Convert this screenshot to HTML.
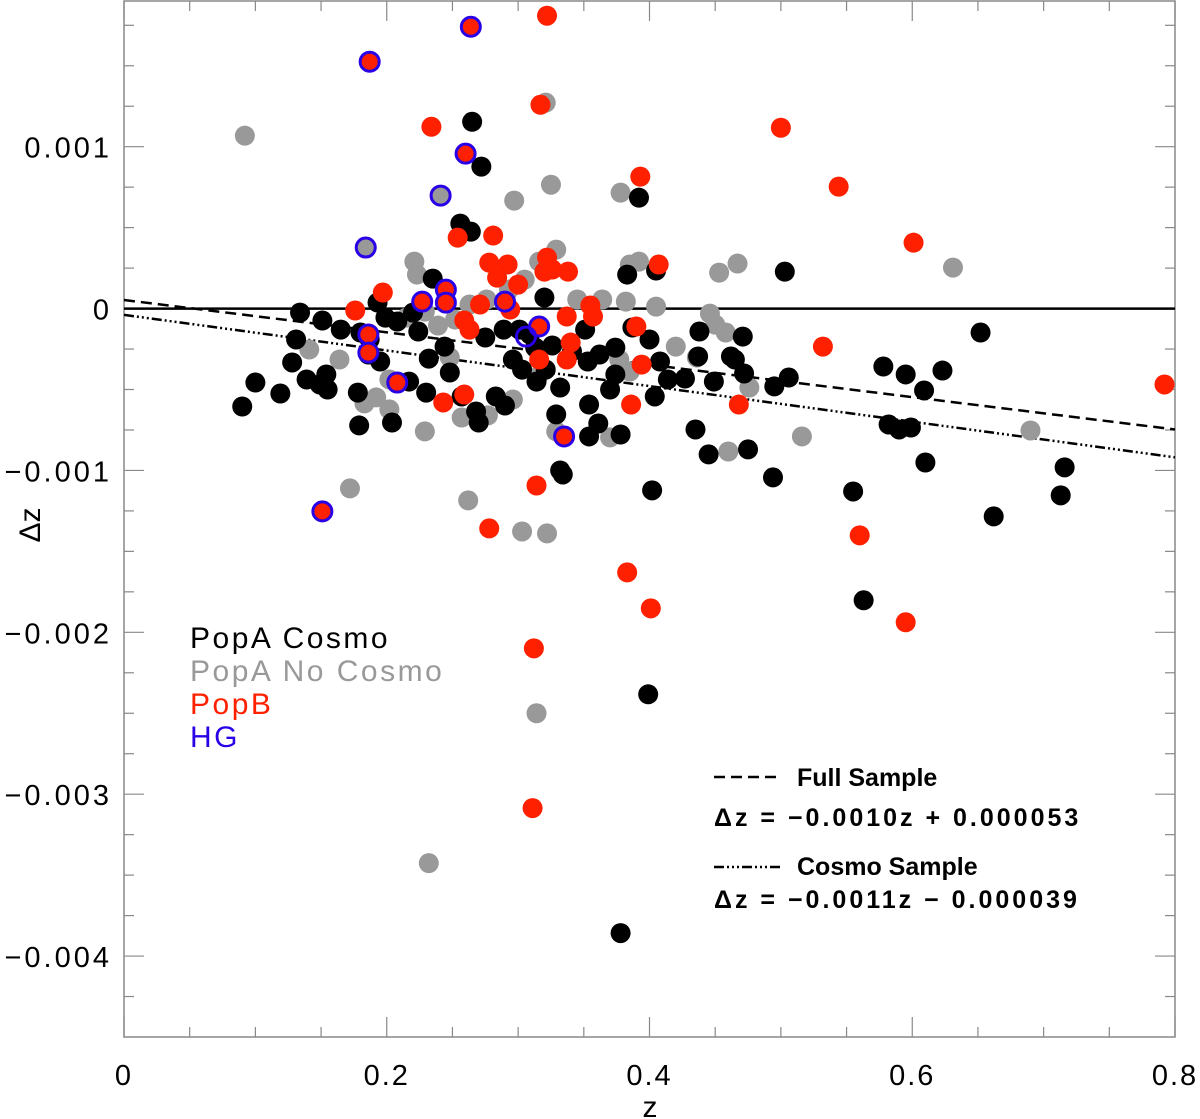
<!DOCTYPE html>
<html><head><meta charset="utf-8"><style>
body{margin:0;background:#fff;}
svg{display:block;font-family:"Liberation Sans",sans-serif;}
</style></head><body>
<svg id="chart" width="1200" height="1119" viewBox="0 0 1200 1119" xmlns="http://www.w3.org/2000/svg">
<g id="axes"></g>
<g id="lines"></g>
<g id="pts"></g>
<g font-size="30" letter-spacing="2.5">
<text x="190" y="648" fill="#000">PopA Cosmo</text>
<text x="190" y="681" fill="#999">PopA No Cosmo</text>
<text x="190" y="714" fill="#ff2000">PopB</text>
<text x="190" y="747" fill="#2a00e6">HG</text>
</g>
<g font-weight="bold">
<line x1="714" y1="777" x2="780" y2="777" stroke="#000" stroke-width="2.5" stroke-dasharray="11,6"/>
<text x="797" y="786" font-size="25">Full Sample</text>
<text x="714" y="826" font-size="25" letter-spacing="3">Δz = −0.0010z + 0.000053</text>
<line x1="714" y1="867" x2="780" y2="867" stroke="#000" stroke-width="2.5" stroke-dasharray="10,3,2,3,2,3,2,3"/>
<text x="797" y="875" font-size="25">Cosmo Sample</text>
<text x="714" y="908" font-size="25" letter-spacing="3">Δz = −0.0011z − 0.000039</text>
</g>
<text x="650" y="1117" font-size="30" text-anchor="middle">z</text>
<text transform="translate(40,525) rotate(-90)" font-size="30" text-anchor="middle">Δz</text>
</svg>
<script>
// data (dz in units of 1e-3)
const blackZ=[.265,.272,.392,.256,.264,.235,.405,.383,.503,.320,.193,.134,.131,.151,.165,.180,.187,.208,.199,.220,.186,.195,.224,.244,.275,.289,.301,.309,.313,.326,.341,.351,.362,.353,.374,.387,.400,.408,.414,.404,.370,.374,.314,.321,.303,.296,.248,.232,.217,.230,.128,.139,.119,.154,.155,.149,.178,.179,.204,.100,.090,.257,.268,.270,.283,.290,.332,.329,.354,.354,.361,.378,.332,.334,.402,.427,.471,.438,.449,.437,.462,.495,.506,.472,.465,.435,.445,.475,.494,.555,.578,.582,.590,.599,.595,.609,.623,.610,.652,.662,.716,.713,.563,.399,.378];
const blackDz=[1.154,.877,.685,.525,.475,.185,.235,.210,.228,.068,.037,-.025,-.191,-.074,-.130,-.148,-.191,-.080,-.056,-.025,-.284,-.327,-.142,-.235,-.179,-.130,-.130,-.160,-.241,-.228,-.265,-.130,-.284,-.327,-.241,-.117,-.191,-.327,-.438,-.543,-.500,-.407,-.451,-.377,-.377,-.315,-.395,-.309,-.451,-.519,-.333,-.438,-.525,-.407,-.500,-.469,-.519,-.722,-.704,-.457,-.605,-.543,-.636,-.704,-.543,-.599,-.488,-.654,-.593,-.790,-.710,-.778,-1.000,-1.025,-1.123,-.432,-.173,-.142,-.451,-.296,-.296,-.481,-.426,-.401,-.315,-.747,-.901,-.870,-1.043,-1.130,-.358,-.716,-.747,-.735,-.407,-.506,-.383,-.951,-.148,-1.284,-.981,-1.154,-1.802,-2.383,-3.858];
const greyZ=[.092,.321,.325,.297,.378,.392,.453,.467,.631,.221,.223,.215,.229,.239,.252,.263,.276,.293,.305,.316,.329,.345,.364,.382,.405,.385,.420,.446,.450,.458,.248,.202,.192,.183,.202,.229,.257,.277,.296,.315,.329,.370,.436,.476,.460,.516,.690,.172,.262,.303,.322,.232,.314,.164,.141,.385,.377];
const greyDz=[1.068,1.272,.765,.667,.716,.290,.222,.278,.253,.290,.210,-.056,-.019,-.105,-.068,.025,.056,.117,.179,.290,.364,.056,.056,.043,.012,.272,-.235,-.031,-.099,-.148,-.302,-.438,-.549,-.586,-.623,-.759,-.673,-.660,-.562,-.420,-.759,-.796,-.302,-.488,-.883,-.790,-.753,-1.111,-1.185,-1.377,-1.389,-3.426,-2.500,-.315,-.253,-.389,-.315];
const redZ=[.322,.234,.317,.500,.544,.393,.601,.407,.254,.281,.197,.176,.278,.292,.284,.322,.326,.338,.320,.263,.271,.294,.300,.355,.357,.337,.340,.316,.337,.390,.394,.243,.259,.386,.468,.532,.792,.314,.278,.383,.401,.560,.595,.312,.311,.259];
const redDz=[1.809,1.123,1.259,1.117,.753,.815,.407,.272,.438,.451,.099,-.012,.284,.272,.191,.315,.241,.228,.228,-.130,.025,-.006,.148,.019,-.049,-.049,-.210,-.315,-.315,-.111,-.346,-.580,-.531,-.593,-.593,-.235,-.469,-1.093,-1.358,-1.630,-1.852,-1.401,-1.938,-2.099,-3.086,-.074];
const hgZ=[.187,.264,.260,.241,.184,.245,.227,.245,.290,.186,.186,.208,.151,.335,.316,.306];
const hgDz=[1.525,1.741,.957,.698,.377,.117,.043,.037,.043,-.160,-.272,-.457,-1.253,-.790,-.111,-.173];
const hgFill=["red","red","red","grey","grey","red","red","red","red","red","red","red","red","red","red","none"];
const fitSlope=[-0.0010,-0.0011];
const fitIcpt=[0.000053,-0.000039];
const xTicks=["0","0.2","0.4","0.6","0.8"];
const yTickVals=[0.001,0,-0.001,-0.002,-0.003,-0.004];
const yTickLabels=["0.001","0","\u22120.001","\u22120.002","\u22120.003","\u22120.004"];

const L=124,R=1175,T=1,B=1037,XMIN=0,XMAX=0.8,YMIN=-0.0045,YMAX=0.0019;
const X=v=>L+(v-XMIN)/(XMAX-XMIN)*(R-L);
const Y=v=>T+(YMAX-v)/(YMAX-YMIN)*(B-T);
const NS="http://www.w3.org/2000/svg";
function mk(tag,parent,attrs){const e=document.createElementNS(NS,tag);for(const k in attrs)e.setAttribute(k,attrs[k]);parent.appendChild(e);return e;}
const ax=document.getElementById('axes');
const frame=mk('rect',ax,{x:L,y:T,width:R-L,height:B-T,fill:'none',stroke:'#888','stroke-width':1.5});


for(let i=0;i<=16;i++){const v=i*0.05,x=X(v),len=(i%4==0)?20:10;
 const t1=mk('line',ax,{x1:x,y1:B,x2:x,y2:B-len,stroke:'#888','stroke-width':1.2});
 
 
 const t2=mk('line',ax,{x1:x,y1:T,x2:x,y2:T+len,stroke:'#888','stroke-width':1.2});
 
 }
xTicks.forEach((s,i)=>{const t=mk('text',ax,{x:X(+s),y:1085,'font-size':29,'letter-spacing':2,'text-anchor':'middle'});t.textContent=s;
 
 });
for(let i=-18;i<=7;i++){const v=i*0.00025,y=Y(v);if(y<T||y>B)continue;const len=(i%4==0)?20:10;
 const t1=mk('line',ax,{x1:L,y1:y,x2:L+len,y2:y,stroke:'#888','stroke-width':1.2});
 
 
 const t2=mk('line',ax,{x1:R,y1:y,x2:R-len,y2:y,stroke:'#888','stroke-width':1.2});
 
 }
yTickVals.forEach((v,i)=>{const t=mk('text',ax,{x:112,y:Y(v)+11,'font-size':29,'letter-spacing':3,'text-anchor':'end'});t.textContent=yTickLabels[i];
 
 });
const ln=document.getElementById('lines');
const zero=mk('line',ln,{x1:L,y1:Y(0),x2:R,y2:Y(0),stroke:'#000','stroke-width':2.5});


const dashes=['11,6','10,3,2,3,2,3,2,3'];
fitSlope.forEach((m,i)=>{const l=mk('line',ln,{x1:X(XMIN),y1:Y(fitIcpt[i]+m*XMIN),x2:X(XMAX),y2:Y(fitIcpt[i]+m*XMAX),stroke:'#000','stroke-width':2.5,'stroke-dasharray':dashes[i]});
 
 });
const pg=document.getElementById('pts');
const r=10;
greyZ.forEach((z,i)=>{const c=mk('circle',pg,{cx:X(z),cy:Y(greyDz[i]*1e-3),r:r,fill:'#999'});
 
 });
blackZ.forEach((z,i)=>{const c=mk('circle',pg,{cx:X(z),cy:Y(blackDz[i]*1e-3),r:r,fill:'#000'});
 
 });
redZ.forEach((z,i)=>{const c=mk('circle',pg,{cx:X(z),cy:Y(redDz[i]*1e-3),r:r,fill:'#ff2000'});
 
 });
hgZ.forEach((z,i)=>{const f=hgFill[i]=='red'?'#ff2000':hgFill[i]=='grey'?'#999':'none';
 const c=mk('circle',pg,{cx:X(z),cy:Y(hgDz[i]*1e-3),r:9.5,fill:f,stroke:'#2a00e6','stroke-width':3});
 
 });
</script>
</body></html>
